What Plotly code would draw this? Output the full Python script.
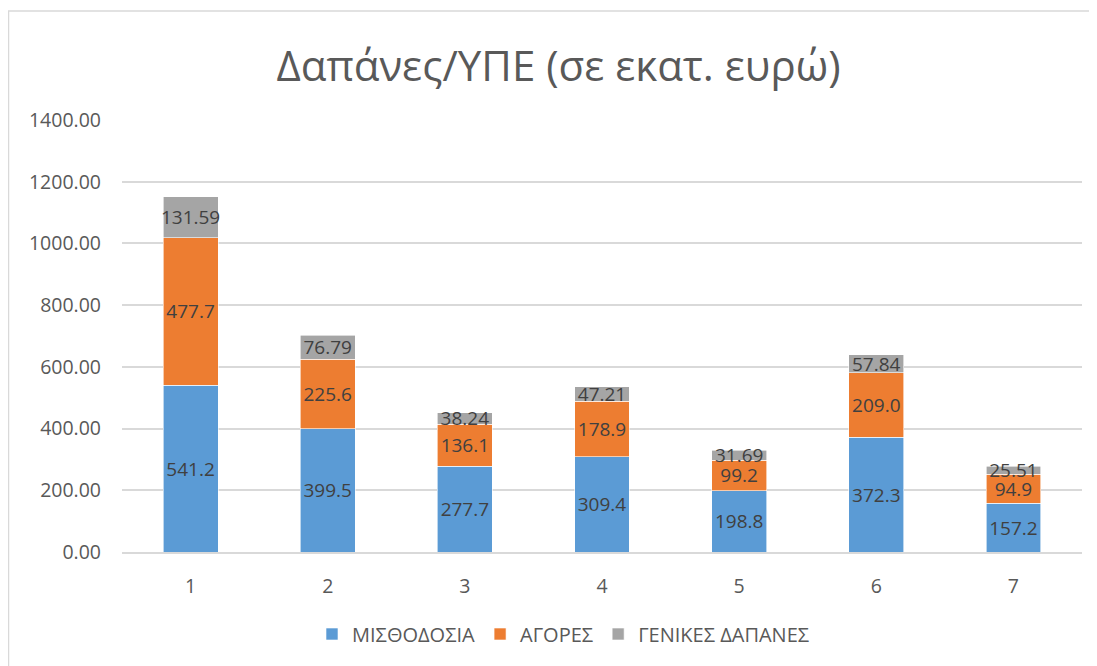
import plotly.graph_objects as go

categories = ["1", "2", "3", "4", "5", "6", "7"]
misthodosia = [541.2, 399.5, 277.7, 309.4, 198.8, 372.3, 157.2]
agores = [477.7, 225.6, 136.1, 178.9, 99.2, 209.0, 94.9]
genikes = [131.59, 76.79, 38.24, 47.21, 31.69, 57.84, 25.51]
series_names = ["ΜΙΣΘΟΔΟΣΙΑ", "ΑΓΟΡΕΣ", "ΓΕΝΙΚΕΣ ΔΑΠΑΝΕΣ"]
colors = ["#5B9BD5", "#ED7D31", "#A5A5A5"]
y_ticks = [0, 200, 400, 600, 800, 1000, 1200, 1400]

FONT = "Open Sans"
label_font = dict(family=FONT, size=19, color="#404040")

# page has an 8px body margin: figure spans page pixels 8..1097 x 8..666
W, H = 1089, 658
L, T, R, B = 114, 112, 15, 114
PW, PH = W - L - R, H - T - B

fig = go.Figure()
for vals, name, col, fmt in zip([misthodosia, agores, genikes], series_names, colors,
                                 ["%{y:.1f}", "%{y:.1f}", "%{y:.2f}"]):
    fig.add_trace(go.Bar(
        x=categories, y=vals, name=name,
        marker=dict(color=col, line=dict(color="white", width=0.6)),
        texttemplate=fmt, textposition="inside", insidetextanchor="middle",
        textangle=0, textfont=label_font, cliponaxis=False,
        hoverinfo="skip",
    ))

fig.update_layout(
    barmode="stack",
    bargap=0.6,
    width=W, height=H,
    margin=dict(l=L, r=R, t=T, b=B, autoexpand=False, pad=0),
    paper_bgcolor="white", plot_bgcolor="white",
    uniformtext=dict(minsize=19, mode="show"),
    title=dict(text="Δαπάνες/ΥΠΕ (σε εκατ. ευρώ)", x=550.5 / W, xref="container",
               y=1 - 58 / H, yref="container", xanchor="center", yanchor="middle",
               font=dict(family=FONT, size=42, color="#595959")),
    legend=dict(orientation="h", x=(555.5 - L) / PW, xref="paper", xanchor="center",
                y=-(626 - (T + PH)) / PH, yanchor="middle",
                font=dict(family=FONT, size=20, color="#595959"),
                traceorder="normal", itemwidth=30),
    showlegend=True,
)
fig.update_xaxes(type="category", showgrid=False, showline=True, linecolor="#D9D9D9",
                 linewidth=1.5, ticks="", tickfont=dict(family=FONT, size=19.5, color="#595959"),
                 ticklabelstandoff=16)
fig.update_yaxes(range=[0, 1400], tickvals=y_ticks, tickformat=".2f", showgrid=True,
                 gridcolor="#D9D9D9", gridwidth=1.5, zeroline=False, showline=False,
                 tickfont=dict(family=FONT, size=19.5, color="#595959"), ticklabelstandoff=20)

# chart area border (partially outside the view, as in the reference)
fig.add_shape(type="rect", xref="paper", yref="paper",
              x0=(0.5 - L) / PW, x1=1.2, y0=-0.5, y1=1 + (T - 3) / PH,
              line=dict(color="#D9D9D9", width=1.5), fillcolor="rgba(0,0,0,0)", layer="below")

fig.write_html("out.html")
